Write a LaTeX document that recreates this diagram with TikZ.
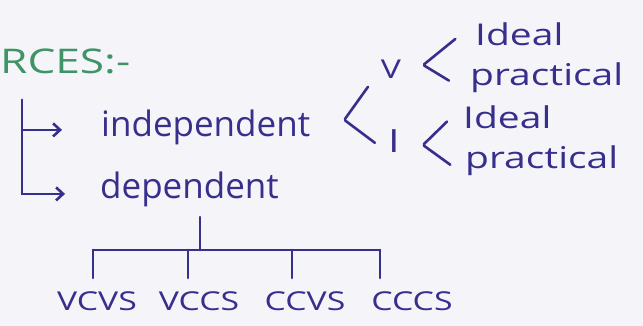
\documentclass[tikz,border=0pt]{standalone}
\usepackage{fontspec}
\setmainfont{Open Sans}
\newfontfamily\handfont{Open Sans}[FakeStretch=1.3]
\usetikzlibrary{positioning,arrows.meta,calc}
\definecolor{cInk}{HTML}{372F8C}
\definecolor{cGreen}{HTML}{3E9467}
\definecolor{cPaper}{HTML}{F5F4F9}
\tikzset{
  ink/.style={draw=cInk,line width=2.6pt,line cap=round},
  fork/.style={ink,shorten <=1pt},
  word/.style={text=cInk,inner sep=0pt,anchor=base west,font=\fontsize{35}{40}\selectfont},
  leaf/.style={text=cInk,inner sep=0pt,anchor=base west,font=\handfont\fontsize{30}{34}\selectfont},
  sym/.style={text=cInk,inner sep=0pt,font=\handfont\fontsize{26}{30}\selectfont},
  lab/.style={text=cInk,inner sep=0pt,anchor=base,font=\handfont\fontsize{26}{30}\selectfont},
  barb/.style={-{Straight Barb[length=7pt,width=13pt]}},
}
\begin{document}
\begin{tikzpicture}[x=1pt,y=-1pt]
\fill[cPaper] (0,0) rectangle (643,326);
\useasboundingbox (0,0) rectangle (643,326);
% --- heading ---
\node[leaf,text=cGreen,font=\handfont\fontsize{34}{40}\selectfont] (head) at (0,74) {RCES:-};
% --- independent / dependent ---
\node[word] (indep) at (101,137) {independent};
\node[word] (dep) at (100,198) {dependent};
\coordinate (rail) at (22,100);
\draw[ink,barb] (rail) |- ([xshift=-39pt,yshift=-2pt]indep.west);
\draw[ink,barb] (rail) |- ([xshift=-35pt,yshift=-5pt]dep.west);
% --- independent splits into V and I ---
\node[sym] (V) at (391,69) {V};
\node[sym,font=\handfont\fontsize{32}{36}\selectfont] (I) at (394,141) {I};
\coordinate (split) at ([xshift=34pt,yshift=8pt]indep.east);
\draw[fork] (split) -- ($(split)!0.65!(V.west)$);
\draw[fork] (split) -- ($(split)!0.7!(I.south west)$);
% --- ideal / practical ---
\node[leaf] (idealV) at (475,46) {Ideal};
\node[leaf] (pracV) at (470,86) {practical};
\node[leaf] (idealI) at (463,129) {Ideal};
\node[leaf] (pracI) at (465,168) {practical};
\coordinate (splitV) at ([xshift=22pt,yshift=4pt]V.east);
\coordinate (splitI) at ([xshift=23pt,yshift=-4pt]I.east);
\draw[fork] (splitV) -- ($(splitV)!0.62!(idealV.north west)$);
\draw[fork] (splitV) -- ($(splitV)!0.55!(pracV.south west)$);
\draw[fork] (splitI) -- ($(splitI)!0.6!(idealI.north west)$);
\draw[fork] (splitI) -- ($(splitI)!0.65!(pracI.south west)$);
% --- dependent: four controlled sources ---
\coordinate (stem) at (200,217);
\foreach \n/\x/\lx in {VCVS/93/97,VCCS/188/199,CCVS/292/305,CCCS/380/412}{
  \coordinate (b\n) at (\x,250);
  \node[lab] (\n) at (\lx,310) {\n};
  \draw[ink,shorten >=13pt] (b\n) -- (b\n |- \n.north);
}
\draw[ink] (stem) -- (stem |- bVCVS);
\draw[ink] (bVCVS) -- (bCCCS);
\end{tikzpicture}
\end{document}
